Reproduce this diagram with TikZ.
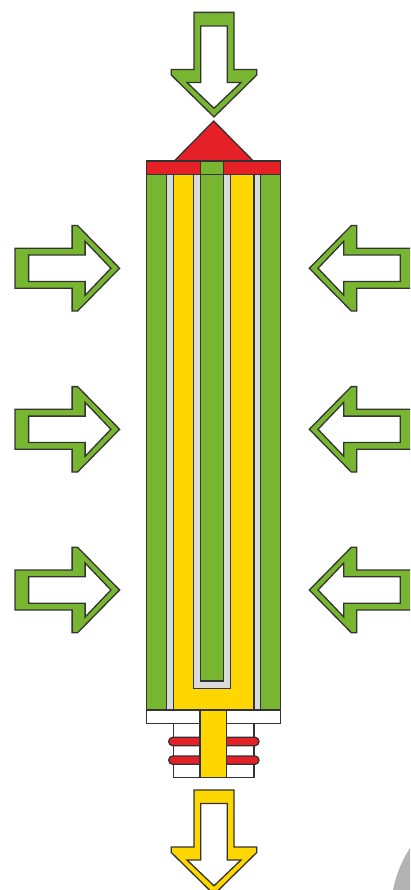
\documentclass[tikz,border=0pt]{standalone}
\definecolor{cgreen}{HTML}{78B631}
\definecolor{cyellow}{HTML}{FFD700}
\definecolor{cred}{HTML}{E52027}
\definecolor{cgray}{HTML}{D9DADB}
\definecolor{cline}{HTML}{333333}
\definecolor{cblob}{HTML}{B3B3B3}
\tikzset{
  part/.style={draw=cline,line width=1.3pt,line join=miter},
  greenpart/.style={part,fill=cgreen},
  yellowpart/.style={part,fill=cyellow},
  redpart/.style={part,fill=cred},
  graypart/.style={part,fill=cgray},
  whitepart/.style={part,fill=white},
  ringpart/.style={part,fill=cred,rounded corners=4pt},
}
\newcommand{\flowarrow}[4]{%
  \begin{scope}[shift={(#1,#2)},rotate=#3]
    \draw[part,fill=#4] (0,0) -- (42.7,-42) -- (42.7,-47.5) -- (20,-47.5) -- (20,-104.6) -- (-20,-104.6) -- (-20,-47.5) -- (-42.7,-47.5) -- (-42.7,-42) -- cycle;
    \draw[whitepart] (0,-8.7) -- (27,-34.5) -- (13.2,-34.5) -- (13.2,-91) -- (-13.2,-91) -- (-13.2,-34.5) -- (-27,-34.5) -- cycle;
  \end{scope}}
\begin{document}
\begin{tikzpicture}[x=1pt,y=-1pt]
\useasboundingbox (0,0) rectangle (410,890);
\clip (0,0) rectangle (410,890);
% grey shape in the corner
\fill[cblob] (393,890) .. controls (396,875) and (402,860) .. (410,848) -- (410,890) -- cycle;
% arrows
\flowarrow{214}{117}{0}{cgreen}
\flowarrow{119.6}{268.3}{90}{cgreen}
\flowarrow{119.6}{429.3}{90}{cgreen}
\flowarrow{119.6}{590}{90}{cgreen}
\flowarrow{309.3}{268.3}{-90}{cgreen}
\flowarrow{309.3}{429.3}{-90}{cgreen}
\flowarrow{309.3}{590}{-90}{cgreen}
\flowarrow{214}{894.5}{0}{cyellow}
% cap
\draw[redpart] (213.7,121) -- (253.3,161) -- (174.3,161) -- cycle;
% lower fittings
\draw[whitepart] (173.7,723.3) rectangle (254,777.3);
\draw[ringpart] (168.7,737.3) rectangle (259,745.7);
\draw[ringpart] (168.7,756) rectangle (259,764.3);
\draw[whitepart] (146.7,710) rectangle (280.7,723.3);
\draw[yellowpart] (200,710) rectangle (226.7,777.3);
% body
\draw[greenpart] (146.7,174.3) rectangle (166.7,710);
\draw[graypart] (166.7,174.3) rectangle (173.7,710);
\draw[yellowpart] (173.7,174.3) -- (193.7,174.3) -- (193.7,688.3) -- (230.7,688.3) -- (230.7,174.3) -- (254,174.3) -- (254,710) -- (173.7,710) -- cycle;
\draw[graypart] (193.7,174.3) rectangle (230.7,688.3);
\draw[greenpart] (200.3,174.3) rectangle (223.7,681);
\draw[graypart] (254,174.3) rectangle (260.7,710);
\draw[greenpart] (260.7,174.3) rectangle (280.7,710);
% band
\draw[redpart] (146.7,161) rectangle (280.7,174.3);
\draw[greenpart] (200.3,161) rectangle (223.7,174.3);
\end{tikzpicture}
\end{document}
